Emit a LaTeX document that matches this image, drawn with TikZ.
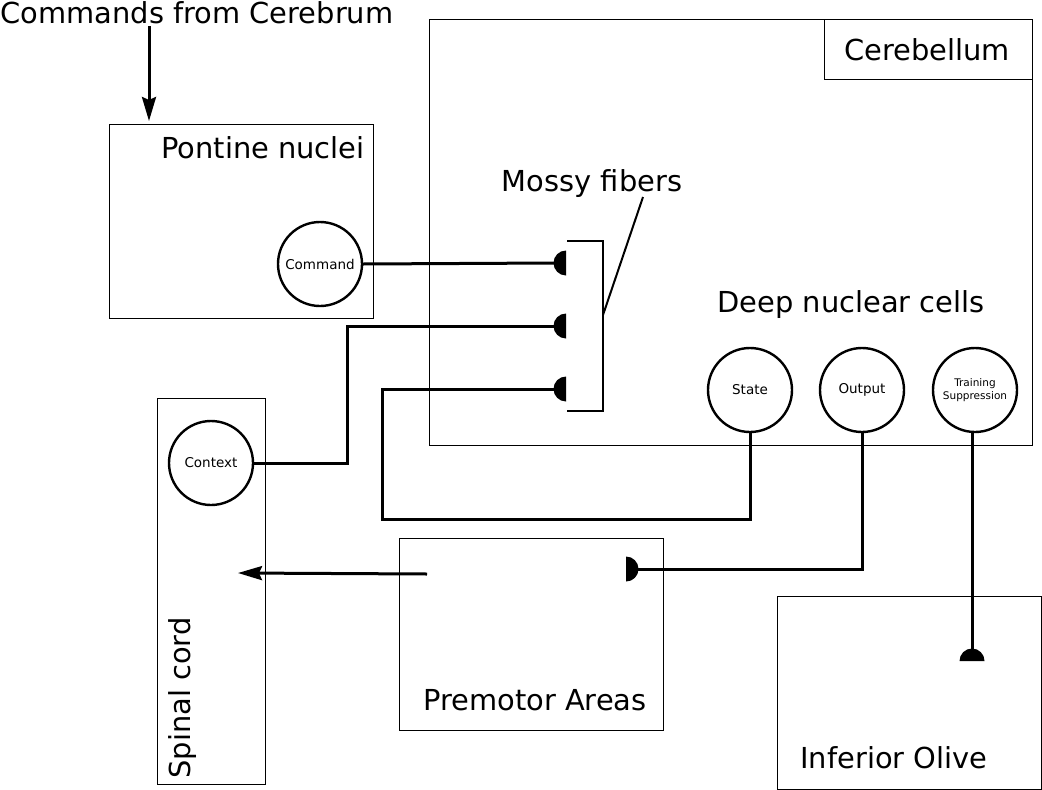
\documentclass[tikz,border=0pt]{standalone}
\usepackage{fontspec}
\setmainfont{DejaVu Sans}
\usetikzlibrary{arrows.meta}
\begin{document}
\begin{tikzpicture}[x=1pt,y=-1pt,
  region/.style={draw, line width=1.4pt, inner sep=0pt, anchor=north west},
  cell/.style={draw, circle, line width=2.4pt, minimum size=84pt, inner sep=0pt, font=\fontsize{13.5}{15}\selectfont},
  big/.style={font=\fontsize{28.9}{34}\selectfont, inner sep=0pt, anchor=base},
  fiber/.style={line width=3pt},
  arr/.style={line width=3pt, -{Stealth[length=24pt, width=14pt, inset=3pt]}},
  bouton/.style={fill=black}
]
\useasboundingbox (0,0) rectangle (1042,790);
% regions
\node[region, minimum width=603pt, minimum height=426pt] (cbl) at (429,19) {};
\node[region, minimum width=208pt, minimum height=60pt] (cbllab) at (824,19) {};
\node[big] (cbltxt) at (927,60) {Cerebellum};
\node[region, minimum width=264pt, minimum height=194pt] (pon) at (109,124) {};
\node[big] (pontxt) at (263,158) {Pontine nuclei};
\node[region, minimum width=108pt, minimum height=386pt] (spc) at (157,398) {};
\node[big, rotate=90] (spctxt) at (190,698) {Spinal cord};
\node[region, minimum width=264pt, minimum height=192pt] (pre) at (399,538) {};
\node[big] (pretxt) at (535,710) {Premotor Areas};
\node[region, minimum width=264pt, minimum height=193pt] (io) at (777,596) {};
\node[big] (iotxt) at (894,768) {Inferior Olive};
\node[big] (cmdtxt) at (197,23) {Commands from Cerebrum};
\node[big] (mossy) at (592,191) {Mossy fibers};
\node[big] (dnc) at (851,312) {Deep nuclear cells};
% cells
\node[cell] (cmd) at (320,264) {Command};
\node[cell] (ctx) at (211,463) {Context};
\node[cell] (st) at (750,390) {State};
\node[cell] (out) at (862,390) {Output};
\node[cell, font=\fontsize{10.5}{12.5}\selectfont, align=center] (tr) at (975,390) {Training\\Suppression};
% boutons: b = centre of flat side, bi = tip of round side
\coordinate (b1) at (566,263);   \coordinate (b1i) at (554,263);
\coordinate (b2) at (566,326);   \coordinate (b2i) at (554,326);
\coordinate (b3) at (566,389);   \coordinate (b3i) at (554,389);
\coordinate (bp) at (626,569);   \coordinate (bpi) at (638,569);
\coordinate (bo) at (972,661);   \coordinate (boi) at (972,649);
\foreach \b in {b1,b2,b3}{
  \fill[bouton] (\b) ++(0,-12.5) arc[start angle=270, end angle=90, radius=12.5] -- cycle;
}
\fill[bouton] (bp) ++(0,-12.5) arc[start angle=270, end angle=450, radius=12.5] -- cycle;
\fill[bouton] (bo) ++(-12.5,0) arc[start angle=180, end angle=360, radius=12.5] -- cycle;
% fibers
\draw[fiber] (cmd.east) -- (b1i);
\draw[fiber] (ctx.east) -- (347,463) -- (347,326) -- (b2i);
\draw[fiber] (st.south) -- (st.south |- 0,519) -- (382,519) -- (382,389) -- (b3i);
\draw[fiber] (out.south) -- (out.south |- bpi) -- (bpi);
\draw[fiber] (boi |- tr.south) -- (boi);
% bracket
\coordinate (brt) at (567,241);
\coordinate (brb) at (567,411);
\draw[line width=2pt] (brt) -- (603,241) -- (603,411) -- (brb);
\coordinate (brm) at (603,315);
\coordinate (mossyend) at (643,197);
\draw[line width=2pt] (brm) -- (mossyend);
% arrows
\coordinate (cmdstart) at (149,26);
\coordinate (cmdend) at (149,121);
\draw[arr] (cmdstart) -- (cmdend);
\coordinate (prestart) at (427,574);
\coordinate (preend) at (238,573);
\draw[arr] (prestart) -- (preend);
\end{tikzpicture}
\end{document}
